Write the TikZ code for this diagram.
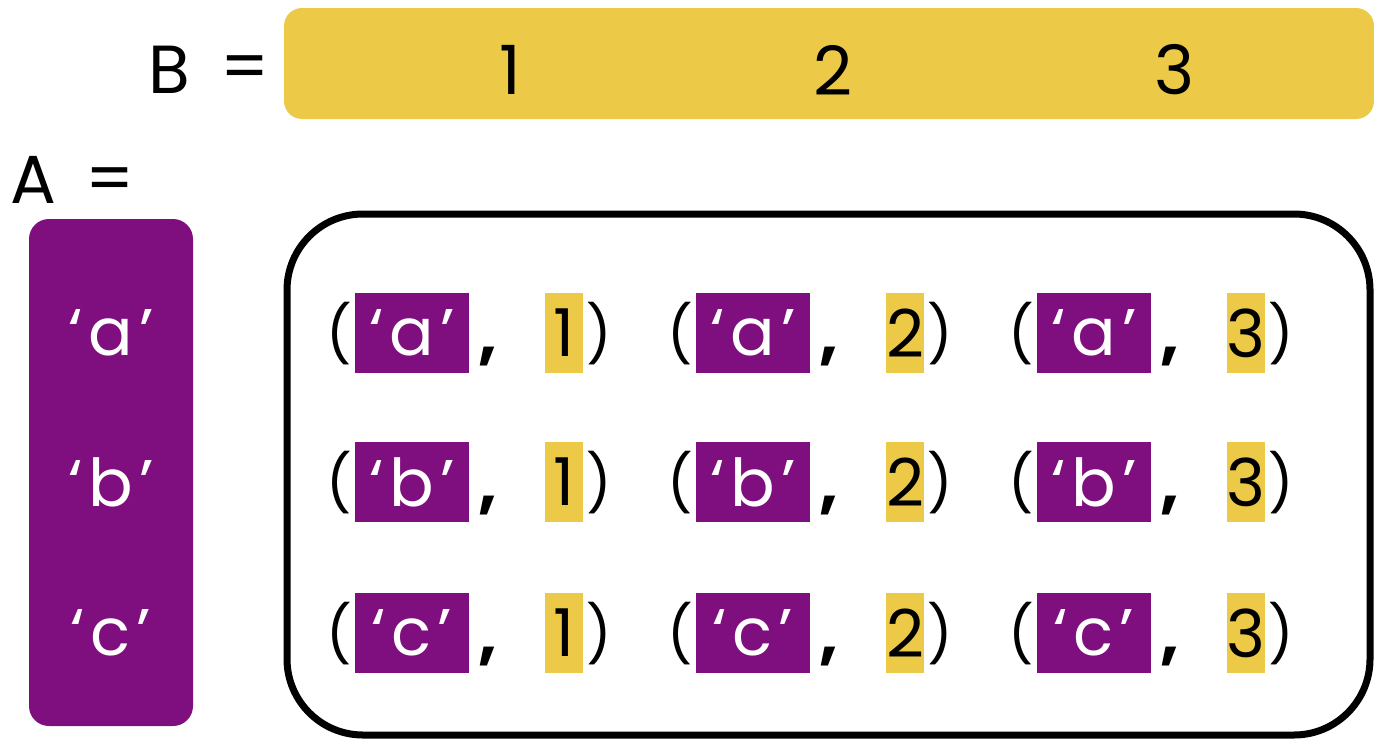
\documentclass[tikz,border=0pt]{standalone}
\usepackage{fontspec}
\setmainfont{Poppins}
\definecolor{gold}{HTML}{ECCA48}
\definecolor{plum}{HTML}{7F0F7E}
\newcommand{\qt}[1]{‘\hspace{3pt}#1\hspace{3pt}’}
\begin{document}
\begin{tikzpicture}[x=0.5pt,y=-0.5pt,
  every node/.style={inner sep=0pt, outer sep=0pt},
  txt/.style={font=\fontsize{33}{40}\selectfont},
  bigtxt/.style={font=\fontsize{34}{40}\selectfont},
  pbox/.style={txt, fill=plum, text=white, minimum width=57pt, minimum height=40pt},
  ybox/.style={txt, fill=gold, text=black, minimum width=19pt, minimum height=40pt},
  paren/.style={font=\fontsize{28}{30}\selectfont},
  comma/.style={font=\fontsize{33}{40}\selectfont\bfseries, anchor=base},
]
\useasboundingbox (0,0) rectangle (1374,739);
% B row
\node[bigtxt] (Blab) at (169,70) {B};
\node[bigtxt] (Beq) at (245,73) {=};
\node[fill=gold, rounded corners=9pt, minimum width=545pt, minimum height=55.5pt] (Bbar) at (829,63.5) {};
\node[bigtxt] (b1) at (510,70) {1};
\node[bigtxt] (b2) at (833,70) {2};
\node[bigtxt] (b3) at (1175,70) {3};
% A column
\node[bigtxt] (Alab) at (33,180) {A};
\node[bigtxt] (Aeq) at (110,185) {=};
\node[fill=plum, rounded corners=10pt, minimum width=82pt, minimum height=253.5pt] (Abar) at (111,472.5) {};
\node[txt, text=white] (a1) at (111,333) {\qt{a}};
\node[txt, text=white] (a2) at (111,482) {\qt{b}};
\node[txt, text=white] (a3) at (111,633) {\qt{c}};
% product box
\draw[line width=3.5pt, rounded corners=38pt] (287,214) rectangle (1370,735);
\foreach \r/\ry/\l in {1/333/a, 2/482/b, 3/633/c}{
  \foreach \c/\cx/\n in {1/0/1, 2/341/2, 3/682/3}{
    \node[pbox] (p\r\c) at ({412+\cx},\ry) {\qt{\l}};
    \node[paren, anchor=east] (l\r\c) at ({352+\cx},{\ry+1}) {(};
    \node[comma] (k\r\c) at ({488+\cx},{\ry+24}) {,};
    \node[ybox] (y\r\c) at ({564+\cx},\ry) {\n};
    \node[paren, anchor=west] (r\r\c) at ({586+\cx},{\ry+1}) {)};
  }
}
\end{tikzpicture}
\end{document}
